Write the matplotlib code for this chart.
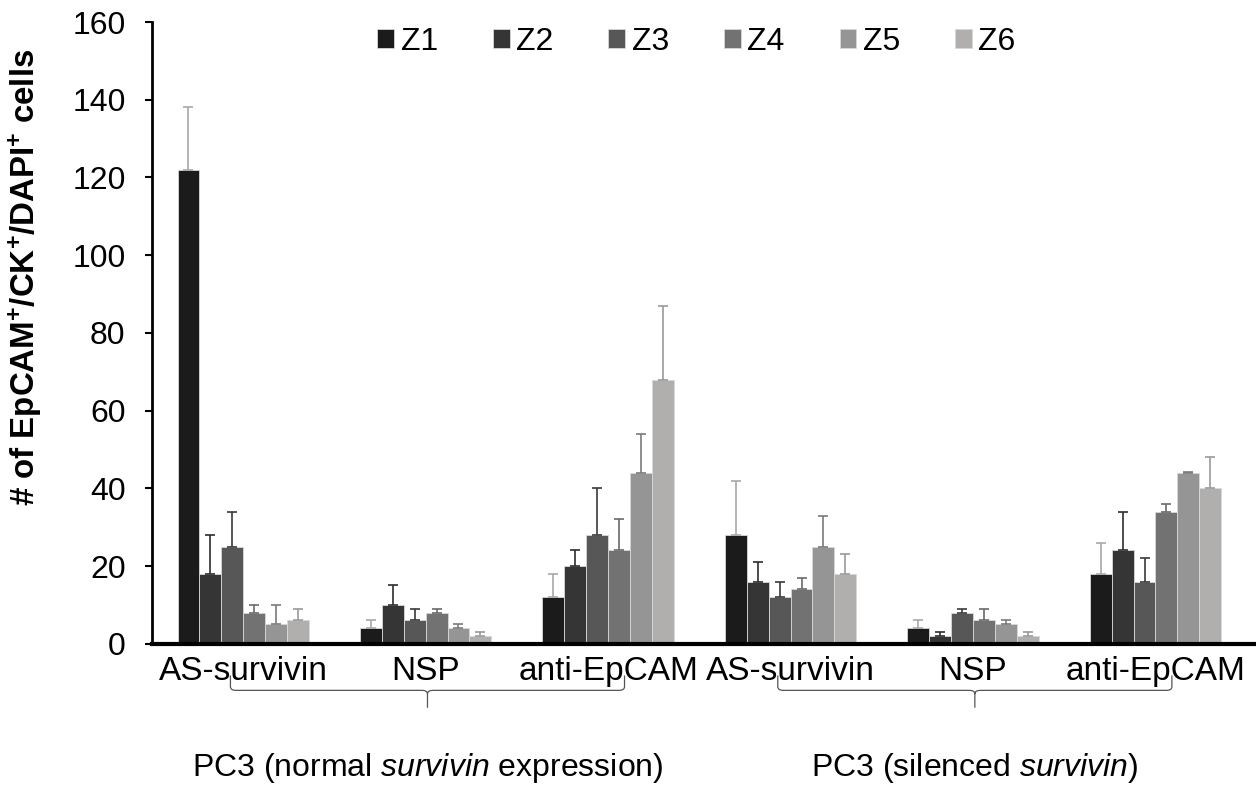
import numpy as np
import matplotlib.pyplot as plt
from matplotlib.path import Path
from matplotlib.patches import PathPatch
import matplotlib.transforms as mtransforms

plt.rcParams['font.family'] = ['Liberation Sans', 'DejaVu Sans']
plt.rcParams['mathtext.fontset'] = 'custom'
plt.rcParams['mathtext.bf'] = 'Liberation Sans:bold'
plt.rcParams['mathtext.it'] = 'Liberation Sans:italic'
plt.rcParams['mathtext.rm'] = 'Liberation Sans'

# treatments (x groups) and zones
categories = ['AS-survivin', 'NSP', 'anti-EpCAM', 'AS-survivin', 'NSP', 'anti-EpCAM']
zones = ['Z1', 'Z2', 'Z3', 'Z4', 'Z5', 'Z6']

# mean counts per zone, one list per zone over the 6 categories
z1 = [122, 4, 12, 28, 4, 18]
z2 = [18, 10, 20, 16, 2, 24]
z3 = [25, 6, 28, 12, 8, 16]
z4 = [8, 8, 24, 14, 6, 34]
z5 = [5, 4, 44, 25, 5, 44]
z6 = [6, 2, 68, 18, 2, 40]

# upper error bars (SD)
z1_err = [16, 2, 6, 14, 2, 8]
z2_err = [10, 5, 4, 5, 1, 10]
z3_err = [9, 3, 12, 4, 1, 6]
z4_err = [2, 1, 8, 3, 3, 2]
z5_err = [5, 1, 10, 8, 1, 0.2]
z6_err = [3, 1, 19, 5, 1, 8]

cell_lines = ['PC3 (normal $\\it{survivin}$ expression)', 'PC3 (silenced $\\it{survivin}$)']

means = [z1, z2, z3, z4, z5, z6]
errs = [z1_err, z2_err, z3_err, z4_err, z5_err, z6_err]
colors = ['#1b1b1b', '#353535', '#575757', '#727272', '#959595', '#b1aeae']
err_colors = ['#a8a8a8', '#2e2e2e', '#3a3a3a', '#6a6a6a', '#7a7a7a', '#9a9a9a']

fig = plt.figure(figsize=(12.56, 7.86), dpi=100)
ax = fig.add_axes([0.121, 0.181, 0.8774, 0.791])

x = np.arange(len(categories))
w = 0.12
for i in range(len(zones)):
    xi = x + (i - 2.5) * w
    ax.bar(xi, means[i], w, color=colors[i], edgecolor='#d8d8d8', linewidth=0.6,
           label=zones[i], zorder=2)
    ax.errorbar(xi, means[i], yerr=[np.zeros(len(x)), errs[i]], fmt='none',
                ecolor=err_colors[i], elinewidth=1.2, capsize=3.5, capthick=1.2, zorder=3)

ax.set_xlim(-0.5, 5.54)
ax.set_ylim(0, 160)
ax.set_yticks(np.arange(0, 161, 20))
ax.set_xticks(x)
ax.set_xticklabels(categories)
ax.tick_params(axis='x', length=0, pad=9, labelsize=24)
ax.tick_params(axis='y', length=5, width=1.5, direction='out', labelsize=23, pad=14)

ax.spines['top'].set_visible(False)
ax.spines['right'].set_visible(False)
ax.spines['left'].set_linewidth(2)
ax.spines['bottom'].set_linewidth(3)

ax.set_ylabel('# of EpCAM$^{\\mathbf{+}}$/CK$^{\\mathbf{+}}$/DAPI$^{\\mathbf{+}}$ cells',
              fontsize=23.8, fontweight='bold')
ax.yaxis.set_label_coords(-0.098, 0.59)

# braces under each cell line
trans = mtransforms.blended_transform_factory(ax.transData, ax.transAxes)
for k in range(2):
    x0 = x[3 * k] - 0.07
    x1 = x[3 * k + 2] + 0.09
    xm = (x0 + x1) / 2
    yt, yh, yb, r = -0.051, -0.075, -0.103, 0.03
    verts = [(x0, yt), (x0, yh + 0.006), (x0, yh), (x0 + r, yh),
             (xm - r, yh), (xm, yh), (xm, yh - 0.006), (xm, yb),
             (xm, yh - 0.006), (xm, yh), (xm + r, yh),
             (x1 - r, yh), (x1, yh), (x1, yh + 0.006), (x1, yt)]
    codes = [Path.MOVETO, Path.LINETO, Path.CURVE3, Path.CURVE3,
             Path.LINETO, Path.CURVE3, Path.CURVE3, Path.LINETO,
             Path.MOVETO, Path.CURVE3, Path.CURVE3,
             Path.LINETO, Path.CURVE3, Path.CURVE3, Path.LINETO]
    ax.add_patch(PathPatch(Path(verts, codes), transform=trans, fill=False,
                           edgecolor='#555555', linewidth=0.9, clip_on=False))
    ax.text(xm, -0.2, cell_lines[k], transform=trans, ha='center', va='center',
            fontsize=23)

fig.legend(loc='center', bbox_to_anchor=(0.5545, 0.947), ncol=6, frameon=False,
           fontsize=23, handlelength=0.53, handleheight=0.53, handletextpad=0.2,
           columnspacing=1.72, borderpad=0)

fig.savefig('out.png', dpi=100)
